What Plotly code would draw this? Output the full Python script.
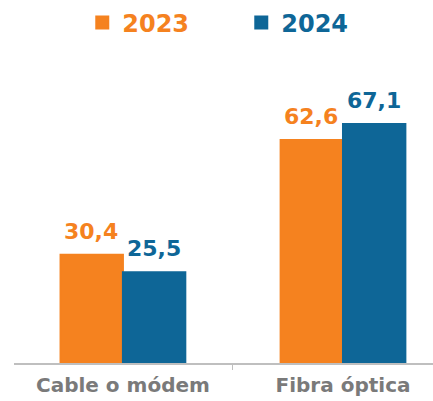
import plotly.graph_objects as go

categories = ["Cable o módem", "Fibra óptica"]
series_names = ["2023", "2024"]
values_2023 = [30.4, 62.6]
values_2024 = [25.5, 67.1]
colors = ["#F5821F", "#0E6697"]

FONT = "DejaVu Sans"

fig = go.Figure()
series_values = [values_2023, values_2024]
for name, vals, col in zip(series_names, series_values, colors):
    fig.add_trace(go.Bar(
        x=categories, y=vals,
        name=f"<span style='color:{col}'><b>{name}</b></span>",
        marker=dict(color=col, line=dict(width=2, color=col)),
        hoverinfo="skip",
    ))

# value labels above bars
bar_half = 31.5
for i, (vals, col) in enumerate(zip(series_values, colors)):
    shift = -bar_half if i == 0 else bar_half
    for cat, v in zip(categories, vals):
        fig.add_annotation(
            x=cat, y=v, xref="x", yref="y",
            text=f"<b>{v:.1f}</b>".replace(".", ","),
            showarrow=False, xshift=shift, yshift=9,
            yanchor="bottom", xanchor="center",
            font=dict(family=FONT, size=22, color=col),
        )

fig.update_layout(
    width=433, height=401,
    margin=dict(l=14, r=0, t=61, b=38),
    paper_bgcolor="white", plot_bgcolor="white",
    barmode="group", bargap=0.433, bargroupgap=0,
    showlegend=True,
    legend=dict(
        orientation="h", xref="container", yref="container",
        x=0.19, xanchor="left", y=0.943, yanchor="middle",
        font=dict(family=FONT, size=24),
        entrywidth=114, entrywidthmode="pixels",
        bgcolor="rgba(0,0,0,0)",
    ),
    xaxis=dict(
        range=[-0.495, 1.409],
        showline=True, linecolor="#BFBFBF", linewidth=1.5,
        ticks="outside", tickson="boundaries", ticklen=5, tickcolor="#BFBFBF",
        tickfont=dict(family=FONT, size=20, color="#7A7A7A", weight="bold"),
        ticklabelstandoff=3,
        showgrid=False, zeroline=False, fixedrange=True,
    ),
    yaxis=dict(
        range=[0, 84.75], visible=False, showgrid=False, zeroline=False,
        fixedrange=True,
    ),
)

fig.write_html(
    "out.html",
    config={"displayModeBar": False},
    post_script="document.body.style.margin='0';document.body.style.overflow='hidden';",
)
